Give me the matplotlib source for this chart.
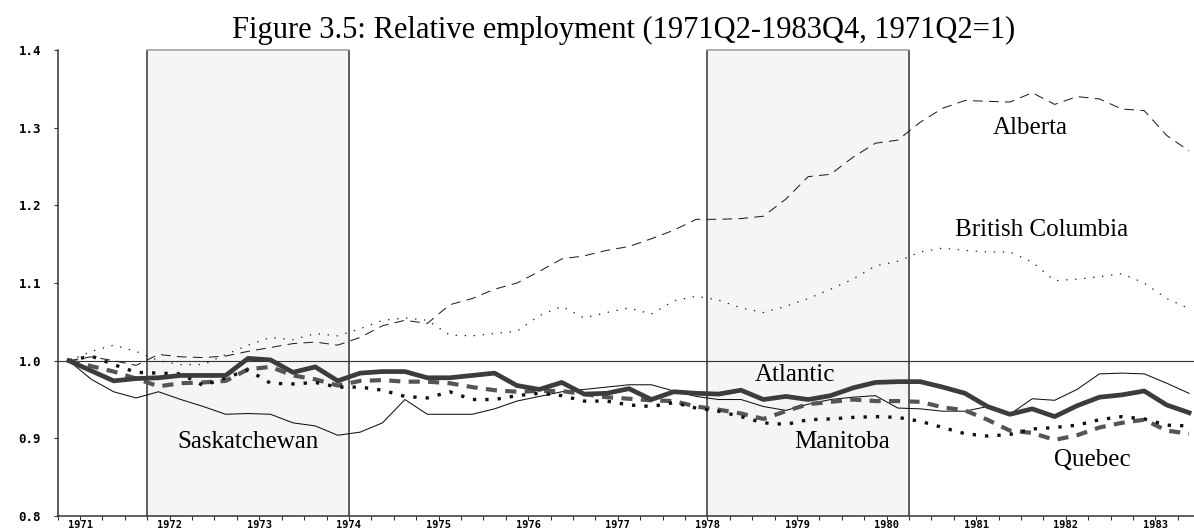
import numpy as np
import matplotlib.pyplot as plt

plt.rcParams['lines.scale_dashes'] = False

# quarters 1971Q2 ... 1983Q4 (index 0..50)
first_year = 1971
years = list(range(1971, 1984))

alberta = [1.000, 1.005, 1.000, 0.994, 1.008, 1.005, 1.004, 1.006, 1.012, 1.017,
           1.022, 1.024, 1.020, 1.030, 1.045, 1.052, 1.048, 1.072, 1.080, 1.092,
           1.100, 1.115, 1.131, 1.135, 1.142, 1.147, 1.157, 1.168, 1.182, 1.182,
           1.183, 1.186, 1.208, 1.237, 1.240, 1.262, 1.280, 1.284, 1.307, 1.325,
           1.335, 1.334, 1.333, 1.345, 1.330, 1.340, 1.337, 1.324, 1.322, 1.290,
           1.270]
british_columbia = [1.000, 1.012, 1.020, 1.012, 1.000, 0.995, 0.995, 1.008, 1.020, 1.030,
                    1.027, 1.035, 1.032, 1.041, 1.052, 1.055, 1.052, 1.033, 1.032, 1.035,
                    1.038, 1.058, 1.070, 1.055, 1.062, 1.068, 1.060, 1.077, 1.083, 1.078,
                    1.068, 1.062, 1.070, 1.080, 1.092, 1.105, 1.122, 1.128, 1.140, 1.145,
                    1.142, 1.140, 1.140, 1.127, 1.103, 1.105, 1.108, 1.112, 1.100, 1.080,
                    1.067]
saskatchewan = [1.000, 0.976, 0.960, 0.952, 0.960, 0.950, 0.941, 0.931, 0.932, 0.931,
                0.920, 0.916, 0.904, 0.908, 0.920, 0.950, 0.931, 0.931, 0.931, 0.938,
                0.948, 0.954, 0.960, 0.963, 0.966, 0.969, 0.969, 0.961, 0.954, 0.950,
                0.950, 0.941, 0.936, 0.944, 0.950, 0.953, 0.955, 0.939, 0.938, 0.935,
                0.935, 0.941, 0.931, 0.951, 0.949, 0.963, 0.983, 0.984, 0.983, 0.971,
                0.958]
atlantic = [1.000, 0.987, 0.974, 0.977, 0.978, 0.981, 0.981, 0.981, 1.003, 1.001,
            0.985, 0.992, 0.974, 0.984, 0.986, 0.986, 0.978, 0.978, 0.981, 0.984,
            0.968, 0.963, 0.972, 0.957, 0.958, 0.964, 0.950, 0.960, 0.958, 0.957,
            0.962, 0.950, 0.954, 0.950, 0.955, 0.965, 0.972, 0.973, 0.973, 0.966,
            0.958, 0.941, 0.931, 0.938, 0.928, 0.942, 0.953, 0.956, 0.961, 0.943,
            0.933]
manitoba = [1.000, 1.006, 0.995, 0.985, 0.984, 0.983, 0.968, 0.978, 0.988, 0.971,
            0.970, 0.972, 0.966, 0.966, 0.962, 0.954, 0.952, 0.960, 0.950, 0.950,
            0.955, 0.958, 0.955, 0.948, 0.948, 0.943, 0.941, 0.946, 0.939, 0.935,
            0.928, 0.920, 0.918, 0.924, 0.925, 0.927, 0.928, 0.927, 0.922, 0.914,
            0.906, 0.903, 0.905, 0.912, 0.914, 0.917, 0.924, 0.928, 0.925, 0.917,
            0.916]
quebec = [1.000, 0.993, 0.986, 0.977, 0.967, 0.971, 0.972, 0.974, 0.989, 0.992,
          0.981, 0.976, 0.968, 0.974, 0.975, 0.973, 0.973, 0.971, 0.966, 0.962,
          0.960, 0.961, 0.961, 0.957, 0.953, 0.951, 0.949, 0.948, 0.941, 0.937,
          0.932, 0.925, 0.935, 0.944, 0.947, 0.950, 0.948, 0.948, 0.947, 0.940,
          0.936, 0.924, 0.910, 0.907, 0.898, 0.904, 0.914, 0.920, 0.924, 0.910,
          0.906]

# shaded periods (in quarter index units)
shade_start = [3.5, 28.5]
shade_end = [12.5, 37.5]

x = np.arange(len(alberta))

fig = plt.figure(figsize=(11.94, 5.31), dpi=100)
ax = fig.add_axes([0.0483, 0.0282, 0.9517, 0.8776])
ax.set_xlim(-0.5, 50.22)
ax.set_ylim(0.8, 1.4)

# shaded boxes
for s, e in zip(shade_start, shade_end):
    ax.axvspan(s, e, color='#f5f5f5', zorder=0)
    ax.plot([s, s], [0.8, 1.4], color='#333333', lw=1.1, zorder=1)
    ax.plot([e, e], [0.8, 1.4], color='#333333', lw=1.1, zorder=1)
    ax.plot([s, e], [1.4, 1.4], color='#999999', lw=1.1, zorder=1, clip_on=False)

ax.axhline(1.0, color='#333333', lw=0.8, zorder=1)

# series
ax.plot(x, alberta, color='#222222', lw=0.75, dashes=(7, 4.5), zorder=3)
ax.plot(x, british_columbia, color='#222222', lw=0.9, dashes=(1, 5.5), zorder=3)
ax.plot(x, saskatchewan, color='#111111', lw=0.75, zorder=3)
ax.plot(x, quebec, color='#555555', lw=3.0, dashes=(8, 6), zorder=4)
ax.plot(x, manitoba, color='#111111', lw=2.4, dashes=(2.4, 6.5), zorder=4)
ax.plot(x, atlantic, color='#3c3c3c', lw=3.4, zorder=5)

# labels
lab = dict(family='Liberation Serif', fontsize=18, ha='center', va='baseline', zorder=6)
ax.text(42.9, 1.292, 'Alberta', **lab)
ax.text(43.4, 1.160, 'British Columbia', **lab)
ax.text(8.0, 0.888, 'Saskatchewan', **lab)
ax.text(32.4, 0.974, 'Atlantic', **lab)
ax.text(34.5, 0.888, 'Manitoba', **lab)
ax.text(45.7, 0.864, 'Quebec', **lab)

fig.text(0.522, 0.928, 'Figure 3.5: Relative employment (1971Q2-1983Q4, 1971Q2=1)',
         family='Liberation Serif', fontsize=22, ha='center', va='baseline')

# axes styling
for side in ['top', 'right']:
    ax.spines[side].set_visible(False)
for side in ['left', 'bottom']:
    ax.spines[side].set_color('#333333')
    ax.spines[side].set_linewidth(1.1)

year_pos = [(y - first_year) * 4 - 1 + 1.5 for y in years]
ax.set_xticks(year_pos)
ax.set_xticklabels([str(y) for y in years])
ax.set_xticks(np.arange(-0.5, 50.5, 1.0), minor=True)
ax.tick_params(axis='x', which='both', length=3, width=0.8, color='#333333', pad=0)
ax.set_yticks([0.8, 0.9, 1.0, 1.1, 1.2, 1.3, 1.4])
ax.set_yticklabels(['0.8', '0.9', '1.0', '1.1', '1.2', '1.3', '1.4'])
ax.tick_params(axis='y', length=3, width=0.8, color='#333333', pad=9)
for t in ax.get_xticklabels():
    t.set_family('DejaVu Sans Mono')
    t.set_fontweight('bold')
    t.set_fontsize(7.5)
for t in ax.get_yticklabels():
    t.set_family('DejaVu Sans Mono')
    t.set_fontweight('bold')
    t.set_fontsize(9)

fig.savefig('out.png', dpi=100, facecolor='white')
